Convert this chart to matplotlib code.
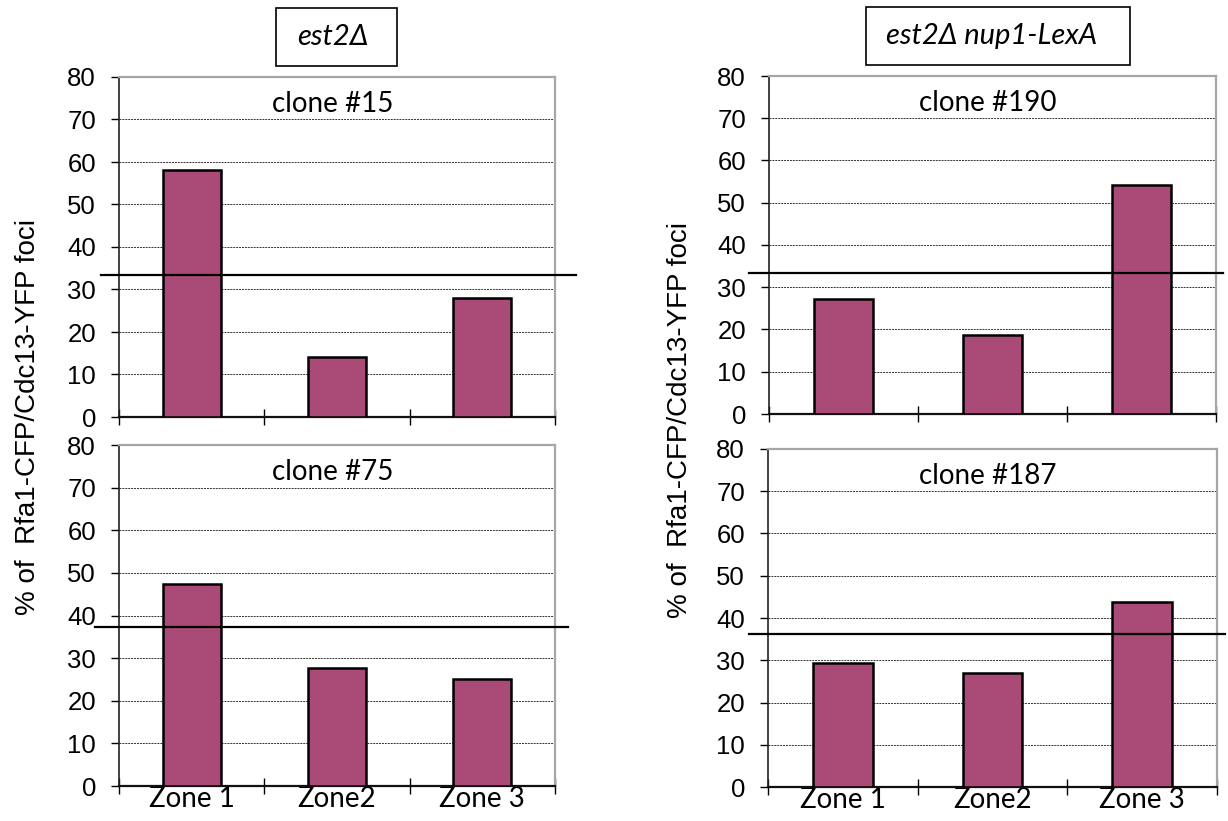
import matplotlib
matplotlib.use("Agg")
import matplotlib.pyplot as plt
from matplotlib.patches import Rectangle

# data
zones = ["Zone 1", "Zone2", "Zone 3"]
yticks = [0, 10, 20, 30, 40, 50, 60, 70, 80]

clone15 = [58.0, 14.0, 28.0]
clone75 = [47.3, 27.8, 25.0]
clone190 = [27.2, 18.8, 54.2]
clone187 = [29.3, 26.9, 43.8]

thresh15 = 33.4
thresh75 = 37.4
thresh190 = 33.3
thresh187 = 36.3

BAR = "#aa4a77"
W, H = 1228, 821


def px_axes(fig, x0, y0, x1, y1):
    # pixel box -> figure fraction
    return fig.add_axes([x0 / W, 1 - y1 / H, (x1 - x0) / W, (y1 - y0) / H])


def panel(ax, vals, thresh, label, line_ext, show_xlabels):
    x = range(len(zones))
    ax.bar(x, vals, width=0.4, color=BAR, edgecolor="black", linewidth=1.8, zorder=3)
    ax.set_xlim(-0.5, 2.5)
    ax.set_ylim(0, 80)
    ax.set_yticks(yticks)
    ax.set_yticklabels([str(t) for t in yticks], family="Liberation Sans", fontsize=18.5)
    ax.yaxis.grid(True, color="#333333", linestyle=(0, (2, 1)), linewidth=0.7, zorder=1)
    ax.tick_params(axis="y", direction="out", length=5.5, width=1, pad=11)
    ax.set_xticks([-0.5, 0.5, 1.5, 2.5])
    ax.set_xticklabels([])
    ax.tick_params(axis="x", direction="inout", length=11, width=1)
    if show_xlabels:
        ax.set_xticks(list(x), minor=True)
        ax.set_xticklabels(zones, minor=True, family="Lato", fontsize=20)
        ax.tick_params(axis="x", which="minor", length=0, pad=0)
    for s in ["top", "right"]:
        ax.spines[s].set_color("#a6a6a6")
        ax.spines[s].set_linewidth(1.6)
    ax.spines["left"].set_color("#222222")
    ax.spines["left"].set_linewidth(1.2)
    ax.spines["bottom"].set_color("#111111")
    ax.spines["bottom"].set_linewidth(1.6)
    ax.axhline(thresh, xmin=line_ext[0], xmax=line_ext[1], color="black",
               linewidth=1.6, clip_on=False, zorder=4)
    ax.text(0.97, 73.7, label, ha="center", va="center", family="Lato", fontsize=20)


fig = plt.figure(figsize=(W / 100, H / 100), dpi=100)

ax1 = px_axes(fig, 119, 77, 555, 417)
panel(ax1, clone15, thresh15, "clone #15", (-0.041, 1.048), False)
ax2 = px_axes(fig, 119, 445, 555, 786)
panel(ax2, clone75, thresh75, "clone #75", (-0.056, 1.03), True)
ax3 = px_axes(fig, 769, 76, 1216, 414)
panel(ax3, clone190, thresh190, "clone #190", (-0.045, 1.016), False)
ax4 = px_axes(fig, 768, 449, 1217, 787)
panel(ax4, clone187, thresh187, "clone #187", (-0.043, 1.018), True)

ylab = "% of  Rfa1-CFP/Cdc13-YFP foci"
fig.text(28 / W, 1 - 417 / H, ylab, rotation=90, ha="center", va="center",
         family="Liberation Sans", fontsize=20)
fig.text(680 / W, 1 - 420 / H, ylab, rotation=90, ha="center", va="center",
         family="Liberation Sans", fontsize=20)

# genotype boxes
for (bx0, by0, bx1, by1), tx, title in [((276, 8, 397, 66), 297, "est2Δ"),
                                        ((866, 7, 1130, 65), 886, "est2Δ nup1-LexA")]:
    fig.patches.append(Rectangle((bx0 / W, 1 - by1 / H), (bx1 - bx0) / W, (by1 - by0) / H,
                                 transform=fig.transFigure, fill=False,
                                 edgecolor="black", linewidth=1.2))
    fig.text(tx / W, 1 - (by0 + by1) / 2 / H, title, ha="left", va="center",
             family="Lato", style="italic", fontsize=21)

fig.savefig("out.png", dpi=100)
